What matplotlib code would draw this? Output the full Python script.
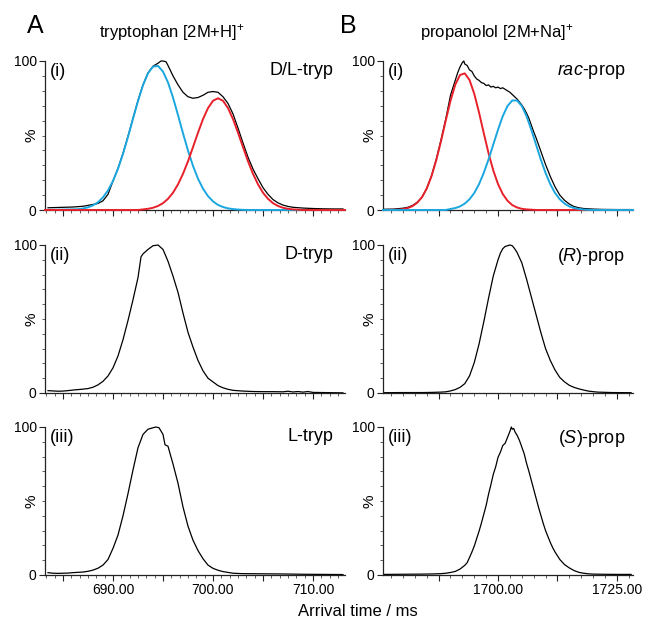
import matplotlib
matplotlib.use("Agg")
import matplotlib.pyplot as plt
from matplotlib.ticker import MultipleLocator, FixedLocator, FuncFormatter

plt.rcParams['font.family'] = ['Liberation Sans', 'DejaVu Sans']
plt.rcParams['mathtext.fontset'] = 'custom'
plt.rcParams['mathtext.rm'] = 'Liberation Sans'
plt.rcParams['mathtext.it'] = 'Liberation Sans:italic'

# ---------------- tryptophan (arrival time in ms, intensity in %) ----------------
trp_rac_t = [683.5, 684, 685, 686, 687, 688, 688.5, 689, 689.5, 690, 690.5, 691, 691.5, 692,
             692.5, 693, 693.5, 694, 694.5, 694.8, 695, 695.3, 695.5, 696, 696.5, 697, 697.5,
             698, 698.5, 699, 699.5, 700, 700.5, 701, 701.5, 702, 702.5, 703, 703.5, 704,
             704.5, 705, 705.5, 706, 706.5, 707, 707.5, 708, 709, 710, 711, 712, 713]
trp_rac_i = [1.5, 1.6, 1.8, 2.0, 2.5, 3.7, 4.4, 6.2, 10.5, 19.5, 28, 38, 49.5, 61.5,
             73.5, 84, 92, 96.5, 98.5, 100, 100, 99.5, 97, 90, 84, 79, 76,
             75, 75.5, 77, 79, 79.5, 79, 76, 71.5, 64.5, 55, 45, 35.5, 27.5,
             21, 15, 10.5, 7, 4.8, 3.3, 2.4, 1.8, 1.3, 1.0, 0.8, 0.7, 0.7]

# fitted components read from the red / blue curves
fit_t = [683.2, 686.5, 687, 687.5, 688, 688.5, 689, 689.5, 690, 690.5, 691, 691.5, 692, 692.5,
         693, 693.5, 694, 694.5, 695, 695.5, 696, 696.5, 697, 697.5, 698, 698.5, 699,
         699.5, 700, 700.5, 701, 701.5, 702, 702.5, 703, 703.5, 704, 704.5, 705, 705.5,
         706, 706.5, 707, 707.5, 708, 708.5, 709, 713.2]
trp_fit_blue = [0, 0.5, 1.0, 1.8, 3.1, 5.2, 8.5, 13.1, 19.5, 27.7, 37.7, 49.1, 61.3, 73.2,
                83.8, 91.8, 96.2, 96.7, 92.9, 85.6, 75.5, 63.7, 51.5, 39.9, 29.6, 21.0, 14.3,
                9.3, 5.8, 3.4, 2.0, 1.1, 0.6, 0.3, 0.1, 0, 0, 0, 0, 0,
                0, 0, 0, 0, 0, 0, 0, 0]
trp_fit_red = [0, 0, 0, 0, 0, 0, 0, 0, 0, 0, 0, 0, 0, 0,
               0.4, 0.8, 1.5, 2.7, 4.6, 7.5, 11.6, 17.2, 24.3, 32.7, 42.2, 51.9, 61.0,
               68.4, 73.3, 75.0, 73.3, 68.4, 61.0, 51.9, 42.2, 32.7, 24.3, 17.2, 11.6, 7.5,
               4.6, 2.7, 1.5, 0.8, 0.4, 0.2, 0, 0]

trp_d_t = [683.5, 684, 684.5, 685, 685.5, 686, 686.5, 687, 687.5, 688, 688.5, 689, 689.5, 690,
           690.5, 691, 691.5, 692, 692.5, 692.8, 693, 693.5, 694, 694.5, 695, 695.5, 696,
           696.5, 697, 697.5, 698, 698.5, 699, 699.5, 700, 700.5, 701, 701.5, 702, 703,
           704, 705, 706, 707, 707.5, 708, 708.5, 709, 709.5, 710, 711, 712, 713]
trp_d_i = [1.6, 1.4, 1.2, 1.3, 1.6, 2.0, 2.3, 2.6, 3.0, 3.9, 5.5, 7.9, 11.5, 17,
           25, 36, 49, 63, 78, 92, 94, 97, 99.5, 100, 97, 89, 79,
           68, 54, 41, 31, 22, 15, 10, 7.5, 5, 3.5, 2.5, 1.8, 1.3,
           1.0, 0.9, 0.9, 0.8, 1.2, 0.7, 1.0, 0.6, 1.0, 0.4, 0.3, 0.2, 0.1]

trp_l_t = [683.5, 684, 684.5, 685, 685.5, 686, 686.5, 687, 687.5, 688, 688.5, 689, 689.5, 690,
           690.5, 691, 691.5, 692, 692.5, 693, 693.5, 694, 694.3, 694.6, 695, 695.2, 695.5,
           696, 696.5, 697, 697.5, 698, 698.5, 699, 699.5, 700, 700.5, 701, 702, 703,
           705, 707, 709, 711, 713]
trp_l_i = [1.6, 1.2, 1.1, 1.2, 1.3, 1.6, 1.8, 2.0, 2.5, 3.3, 4.6, 6.7, 10.5, 18,
           27, 40, 55, 71, 86, 95, 98.5, 99.5, 100, 99.5, 95, 88, 87,
           75, 62, 46, 33, 23.5, 16.5, 11, 6.7, 4.5, 3.2, 2.3, 1.2, 0.9,
           0.8, 0.7, 0.5, 0.4, 0.3]

# ---------------- propranolol ----------------
prp_rac_t = [1676, 1678, 1680, 1681, 1682, 1683, 1684, 1685, 1686, 1687, 1688, 1689, 1690,
             1690.5, 1691, 1691.5, 1692, 1692.5, 1692.8, 1693, 1693.5, 1694, 1694.5, 1695,
             1695.5, 1696, 1696.5, 1697, 1697.5, 1698, 1698.5, 1699, 1699.5, 1700, 1700.5,
             1701, 1701.5, 1702, 1702.5, 1703, 1703.5, 1704, 1704.5, 1705, 1705.5, 1706,
             1706.5, 1707, 1707.5, 1708, 1708.5, 1709, 1709.5, 1710, 1710.5, 1711, 1711.5,
             1712, 1713, 1714, 1715, 1716, 1717, 1718, 1720, 1722, 1725, 1728]
prp_rac_i = [0.5, 0.6, 1.2, 1.8, 3.0, 5.2, 8.5, 14.5, 23, 34, 47, 61, 77,
             82, 87, 92, 96, 99, 100, 98, 97, 94, 93, 90,
             88, 87, 85.5, 85, 83.5, 84, 82.5, 83, 82, 82.5, 81.5,
             82, 81, 80, 79, 77.5, 76, 74.5, 72.5, 70.5, 68, 65,
             61.5, 57, 52.5, 48.5, 44, 39.5, 35, 30.5, 26.5, 22.5, 19,
             15.5, 10, 6.5, 4, 2.3, 1.5, 1.0, 0.6, 0.4, 0.3, 0.3]

pfit_t = [1675.8, 1679, 1680, 1681, 1682, 1683, 1684, 1685, 1686, 1687, 1688, 1689, 1690,
          1691, 1692, 1693, 1694, 1695, 1696, 1697, 1698, 1699, 1700, 1701, 1702, 1703,
          1704, 1705, 1706, 1707, 1708, 1709, 1710, 1711, 1712, 1713, 1714, 1715, 1716,
          1717, 1718, 1719, 1720, 1728.4]
prp_fit_red = [0, 0.2, 0.6, 1.3, 2.6, 4.9, 8.6, 14.4, 22.6, 33.4, 46.1, 60.0, 73.3,
               84.1, 90.6, 91.7, 87.3, 78.0, 65.5, 51.6, 38.2, 26.6, 17.4, 10.7, 6.2, 3.3,
               1.7, 0.8, 0.4, 0.2, 0, 0, 0, 0, 0, 0, 0, 0, 0,
               0, 0, 0, 0, 0]
prp_fit_blue = [0, 0, 0, 0, 0, 0, 0, 0, 0, 0, 0, 0, 0.7,
                1.3, 2.4, 4.3, 7.2, 11.4, 17.3, 24.9, 33.9, 43.9, 53.9, 63.0, 69.8, 73.5,
                73.5, 69.8, 63.0, 53.9, 43.9, 33.9, 24.9, 17.3, 11.4, 7.2, 4.3, 2.4, 1.3,
                0.7, 0.3, 0.1, 0, 0]

prp_r_t = [1676, 1680, 1684, 1686, 1688, 1689, 1690, 1691, 1692, 1693, 1694, 1695, 1696,
           1697, 1698, 1699, 1700, 1700.5, 1701, 1701.5, 1702, 1702.5, 1703, 1703.5, 1704,
           1705, 1706, 1707, 1708, 1709, 1710, 1711, 1712, 1713, 1714, 1715, 1716, 1717,
           1718, 1719, 1720, 1721, 1722, 1724, 1728]
prp_r_i = [0.2, 0.3, 0.3, 0.4, 0.6, 0.8, 1.4, 2.3, 3.8, 6.3, 11.5, 20.5, 33,
           48, 64, 79, 90, 94.5, 97.5, 99, 99.5, 100, 99.5, 97.5, 95,
           88, 77, 65, 53, 41, 30, 22, 15.5, 10.5, 7.5, 5.2, 3.8, 2.8,
           2.0, 1.3, 0.9, 0.6, 0.5, 0.3, 0.2]

prp_s_t = [1676, 1680, 1684, 1686, 1688, 1689, 1690, 1691, 1692, 1693, 1693.5, 1694, 1694.5,
           1695, 1695.5, 1696, 1696.5, 1697, 1697.5, 1698, 1698.5, 1699, 1699.5, 1700,
           1700.5, 1701, 1701.5, 1702, 1702.5, 1702.8, 1703, 1703.3, 1703.6, 1704, 1704.5,
           1705, 1705.5, 1706, 1706.5, 1707, 1707.5, 1708, 1708.5, 1709, 1709.5, 1710,
           1710.5, 1711, 1711.5, 1712, 1712.5, 1713, 1714, 1715, 1716, 1717, 1718, 1719,
           1720, 1722, 1725, 1728]
prp_s_i = [0.4, 0.5, 0.6, 0.7, 0.9, 1.2, 1.7, 2.4, 4.0, 6.5, 8.3, 11.8, 15.5,
           19.5, 24.5, 29.5, 35, 41, 47, 54.5, 61, 68, 73, 79.5,
           83, 87.5, 89, 93, 97, 100, 98.5, 99, 96.5, 94.5, 91,
           86.5, 82, 75.5, 70, 64, 58, 52, 46, 40.5, 35, 30,
           26, 22, 18.5, 15.5, 13, 10.5, 7, 4.8, 3, 1.8, 1.2, 0.8,
           0.6, 0.5, 0.4, 0.4]

roman = ["(i)", "(ii)", "(iii)"]
trp_names = ["D/L-tryp", "D-tryp", "L-tryp"]
prp_names = [r"$\mathit{rac}$-prop", r"$\mathit{(R)}$-prop", r"$\mathit{(S)}$-prop"]

BLUE = "#1aa7e0"
RED = "#e8202a"

fig = plt.figure(figsize=(6.47, 6.22), dpi=100)

W, H = 647.0, 622.0
rows = [(61, 210), (245, 393), (427, 575)]
cols = [(45, 345), (383, 633)]


def make_ax(col, row):
    x0, x1 = cols[col]
    y0, y1 = rows[row]
    ax = fig.add_axes([x0 / W, 1 - y1 / H, (x1 - x0) / W, (y1 - y0) / H])
    for s in ["top", "right"]:
        ax.spines[s].set_visible(False)
    for s in ["left", "bottom"]:
        ax.spines[s].set_linewidth(0.9)
        ax.spines[s].set_color("#222222")
    ax.set_ylim(0, 100)
    ax.yaxis.set_major_locator(FixedLocator([0, 100]))
    ax.yaxis.set_minor_locator(MultipleLocator(10))
    ax.tick_params(axis="both", which="major", direction="out", length=4.5, width=0.8,
                   color="#222222", labelsize=10, pad=1.5)
    ax.tick_params(axis="both", which="minor", direction="out", length=2.5, width=0.6,
                   color="#444444")
    ax.set_ylabel("%", fontsize=11)
    ax.yaxis.set_label_coords(-0.022 if col == 0 else -0.026, 0.5)
    return ax


def lab10(v, p):
    return f"{v:.2f}" if abs(v / 10 - round(v / 10)) < 1e-6 else ""


def lab25(v, p):
    return f"{v:.2f}" if abs(v / 25 - round(v / 25)) < 1e-6 else ""


trp_data = [(trp_rac_t, trp_rac_i), (trp_d_t, trp_d_i), (trp_l_t, trp_l_i)]
prp_data = [(prp_rac_t, prp_rac_i), (prp_r_t, prp_r_i), (prp_s_t, prp_s_i)]

for r in range(3):
    # tryptophan column
    ax = make_ax(0, r)
    ax.set_xlim(683.2, 713.2)
    ax.xaxis.set_major_locator(MultipleLocator(5))
    ax.xaxis.set_minor_locator(MultipleLocator(5 / 6))
    ax.xaxis.set_major_formatter(FuncFormatter(lab10))
    t, i = trp_data[r]
    ax.plot(t, i, color="black", lw=0.9, clip_on=False, zorder=2)
    if r == 0:
        # fitted curves sit on top of the measured trace
        ax.plot(fit_t, trp_fit_blue, color=BLUE, lw=1.4, clip_on=False, zorder=3)
        ax.plot(fit_t, trp_fit_red, color=RED, lw=1.4, clip_on=False, zorder=3)
    ax.text(0.015, 0.985, roman[r], transform=ax.transAxes, ha="left", va="top", fontsize=13)
    ax.text(0.962, 0.99, trp_names[r], transform=ax.transAxes, ha="right", va="top", fontsize=13)
    if r < 2:
        ax.tick_params(axis="x", labelbottom=False)

    # propranolol column
    ax = make_ax(1, r)
    ax.set_xlim(1675.8, 1728.4)
    ax.xaxis.set_major_locator(MultipleLocator(12.5))
    ax.xaxis.set_minor_locator(MultipleLocator(2.5))
    ax.xaxis.set_major_formatter(FuncFormatter(lab25))
    t, i = prp_data[r]
    ax.plot(t, i, color="black", lw=0.9, clip_on=False, zorder=2)
    if r == 0:
        ax.plot(pfit_t, prp_fit_red, color=RED, lw=1.4, clip_on=False, zorder=3)
        ax.plot(pfit_t, prp_fit_blue, color=BLUE, lw=1.4, clip_on=False, zorder=3)
    ax.text(0.02, 0.985, roman[r], transform=ax.transAxes, ha="left", va="top", fontsize=13)
    ax.text(0.97, 0.99, prp_names[r], transform=ax.transAxes, ha="right", va="top", fontsize=13)
    if r < 2:
        ax.tick_params(axis="x", labelbottom=False)

fig.text(27 / W, 1 - 33 / H, "A", fontsize=18, ha="left", va="baseline")
fig.text(340 / W, 1 - 33 / H, "B", fontsize=18, ha="left", va="baseline")
fig.text(172 / W, 1 - 33 / H, r"tryptophan [2M+H]$^{+}$", fontsize=12, ha="center", va="center")
fig.text(497 / W, 1 - 33 / H, r"propanolol [2M+Na]$^{+}$", fontsize=12, ha="center", va="center")
fig.text(358 / W, 1 - 612 / H, "Arrival time / ms", fontsize=12, ha="center", va="center")

fig.savefig("out.png", dpi=100)
